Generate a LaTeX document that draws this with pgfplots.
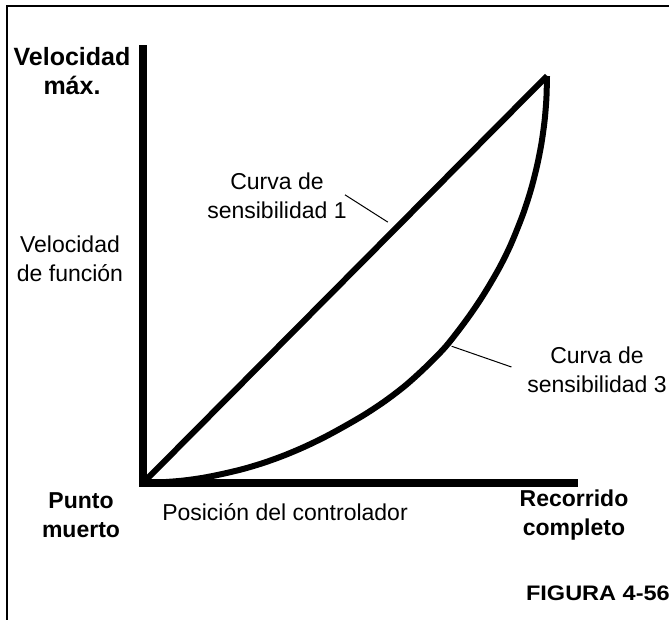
\documentclass[border=0pt]{standalone}
\usepackage{pgfplots}
\pgfplotsset{compat=1.18}
\usepackage{fontspec}
\setmainfont{Liberation Sans}
\usepackage{graphicx}

\begin{document}
\begin{tikzpicture}[x=1pt,y=1pt]
\useasboundingbox (0,0) rectangle (669,620);
% frame (top and left only)
\draw[line width=2pt] (669,614) -- (7,614) -- (7,0);

\begin{axis}[scale only axis,width=404pt,height=407pt,at={(143pt,137pt)},anchor=origin,
  xmin=0,xmax=100,ymin=0,ymax=100,hide axis,clip=false]
% axes
\addplot[black,line width=7.5pt,line join=miter] coordinates {(0,107.6)(0,0)(107.7,0)};
% sensitivity curve 1
\addplot[black,line width=6pt] coordinates {(0,0)(100,100)};
% sensitivity curve 3
\addplot[black,line width=6pt,smooth,tension=0.5] coordinates {
(0,0)(5,0.2)(10,0.6)(15,1.3)(20,2.3)(25,3.5)(30,5.0)(35,6.8)(40,8.9)(45,11.3)
(50,14.0)(55,16.9)(60,20.2)(65,24.0)(70,28.5)(75,33.6)(80,40.0)(84,45.8)
(88,52.5)(91,58.5)(94,65.9)(96,72.0)(97.5,77.8)(98.6,83.3)(99.4,89.0)(99.85,94.5)(100,100)};
% leaders
\draw[black,line width=1pt] (axis cs:50,70.8) -- (axis cs:60.6,64.1);
\draw[black,line width=1pt] (axis cs:76.4,33.6) -- (axis cs:91.2,28.5);
\end{axis}

\begin{scope}[every node/.style={align=center,font=\fontsize{23}{29}\selectfont}]
\node[font=\fontsize{25}{29}\selectfont\bfseries] at (72,549) {Velocidad\\máx.};
\node at (70,361) {Velocidad\\de función};
\node at (277,424) {Curva de\\sensibilidad 1};
\node at (597,250) {Curva de\\sensibilidad 3};
\node[font=\fontsize{23}{29}\selectfont\bfseries] at (81,105) {Punto\\muerto};
\node at (285,108) {Posición del controlador};
\node[font=\fontsize{23}{29}\selectfont\bfseries] at (574,105) {Recorrido\\completo};
\node[font=\fontsize{21}{24}\selectfont\bfseries,anchor=east,inner sep=0pt] at (670,27) {\scalebox{1.12}[1]{FIGURA 4-56}};
\end{scope}
\end{tikzpicture}
\end{document}
